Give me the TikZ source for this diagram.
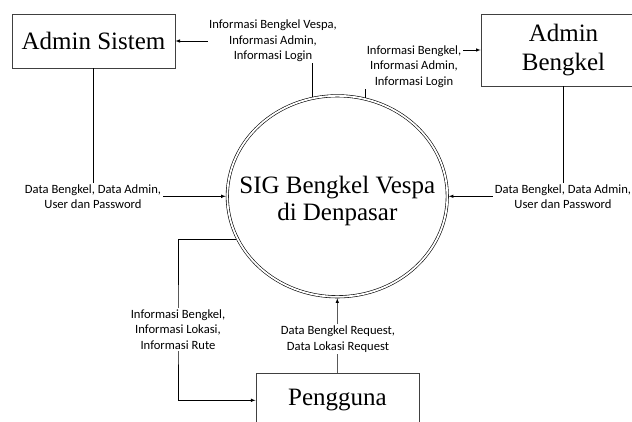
\documentclass[tikz,border=0pt]{standalone}
\usepackage{fontspec}
\setmainfont{Liberation Serif}
\newfontfamily\lblfont{Carlito}
\usetikzlibrary{shapes.geometric}

\tikzset{
  entitas/.style={draw=black!75, line width=0.8pt, minimum width=163pt, minimum height=54pt,
    inner sep=2pt, align=center, font=\fontsize{25}{29}\selectfont},
  proses/.style={ellipse, draw, double, double distance=1.8pt, line width=0.6pt,
    minimum width=220pt, minimum height=201pt, inner sep=0pt, outer sep=1.5pt},
  aliran/.style={-latex, line width=0.6pt},
  ketaliran/.style={fill=white, inner sep=1.5pt, align=center,
    font=\lblfont\fontsize{12.6}{15.5}\selectfont}
}

\begin{document}
\begin{tikzpicture}[x=1pt,y=1pt]
  \useasboundingbox (0,0) rectangle (632,421);
  \clip (0,0) rectangle (632,421);

  % Proses utama - SIG
  \node[proses] (sig) at (337.3,224.7) {};
  \node[font=\fontsize{25}{27}\selectfont, align=center] (sigteks) at (337.3,220.1) {SIG Bengkel Vespa\\di Denpasar};

  % Entitas luar - Admin Sistem, Admin Bengkel, Pengguna
  \node[entitas] (as) at (93.5,380) {Admin Sistem};
  \node[entitas, minimum width=165pt, minimum height=72pt] (ab) at (563.5,371) {Admin\\Bengkel};
  \node[entitas] (pg) at (337.4,20.7) {Pengguna};

  % Aliran data
  \draw[aliran] (sig.104) |- (as.east);
  \draw[aliran] (sig.74) |- (ab.west);
  \draw[aliran] (as.south) |- (sig.west);
  \draw[aliran] (ab.south) |- (sig.east);
  \coordinate (belok) at (178,91.5);
  \draw[aliran] (sig.203) -| (belok) |- (pg.west);
  \draw[aliran] (pg.north) -- (sig.south);

  % Keterangan aliran
  \node[ketaliran] (k1) at (273,380) {Informasi Bengkel Vespa,\\Informasi Admin,\\Informasi Login};
  \node[ketaliran] (k2) at (414,354.5) {Informasi Bengkel,\\Informasi Admin,\\Informasi Login};
  \node[ketaliran] (k3) at (93,224.5) {Data Bengkel, Data Admin,\\User dan Password};
  \node[ketaliran] (k4) at (563,224.5) {Data Bengkel, Data Admin,\\User dan Password};
  \node[ketaliran] (k5) at (belok) {Informasi Bengkel,\\Informasi Lokasi,\\Informasi Rute};
  \node[ketaliran] (k6) at (338,82) {Data Bengkel Request,\\Data Lokasi Request};
\end{tikzpicture}
\end{document}
